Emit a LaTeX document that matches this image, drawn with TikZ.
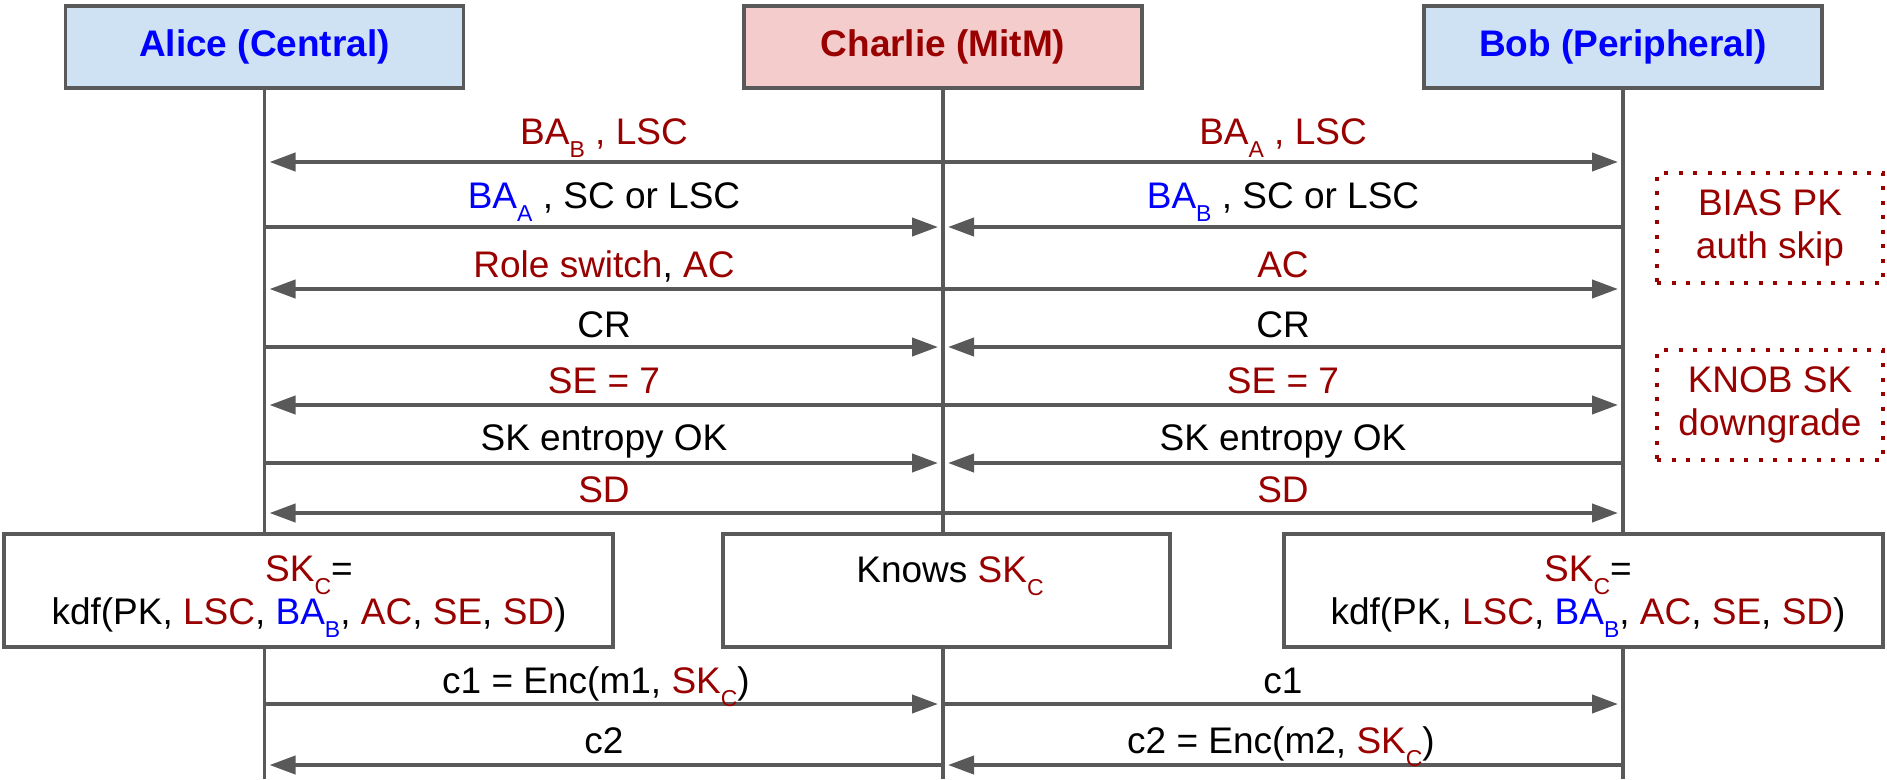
\documentclass[tikz,border=0pt]{standalone}
\usepackage{fontspec}
\setmainfont{Liberation Sans}
\usetikzlibrary{arrows.meta,calc}
\definecolor{dred}{HTML}{990000}
\definecolor{bblue}{HTML}{0000FF}
\definecolor{lgray}{HTML}{595959}
\definecolor{fblue}{HTML}{CFE2F3}
\definecolor{fred}{HTML}{F4CCCC}
\newcommand\subs[1]{\raisebox{-13pt}{\fontsize{23}{23}\selectfont #1}}
\newcommand\rd[1]{\textcolor{dred}{#1}}
\newcommand\bl[1]{\textcolor{bblue}{#1}}
\begin{document}
\begin{tikzpicture}[x=1pt,y=-1pt,
  actor/.style={draw=lgray, line width=3.5pt, minimum width=398pt, minimum height=82pt, inner sep=0pt, font=\bfseries\fontsize{37}{40}\selectfont},
  kbox/.style={draw=lgray, line width=3.5pt, fill=white, inner sep=0pt, minimum height=113pt},
  life/.style={draw=lgray, line width=3.5pt},
  msg/.style={draw=lgray, line width=4pt, -{Triangle[length=26pt,width=18pt]}, shorten >=5pt, shorten <=1pt},
  lbl/.style={anchor=base, inner sep=0pt, font=\fontsize{37}{40}\selectfont},
  ktext/.style={anchor=north, inner sep=0pt, align=center, font=\fontsize{37}{43}\selectfont},
  note/.style={draw=dred, line width=3.5pt, dash pattern=on 4pt off 10.5pt, minimum width=226pt, minimum height=110pt, text=dred, align=center, inner sep=0pt, font=\fontsize{37}{43}\selectfont}
]
\useasboundingbox (0,0) rectangle (1887,779);
\coordinate (bot) at (0,779);
% actors
\node[actor, fill=fblue, text=bblue] (alice) at (264.5,47) {Alice (Central)};
\node[actor, fill=fred, text=dred] (charlie) at (943,47) {Charlie (MitM)};
\node[actor, fill=fblue, text=bblue] (bob) at (1623,47) {Bob (Peripheral)};
% key boxes
\node[kbox, minimum width=609pt] (kA) at (308.5,590.5) {};
\node[kbox, minimum width=447pt] (kC) at (946.5,590.5) {};
\node[kbox, minimum width=599pt] (kB) at (1583.5,590.5) {};
% lifelines
\foreach \n in {alice,charlie,bob}{
  \draw[life] (\n.south) -- (\n.south |- kA.north);
  \draw[life] (\n.south |- kA.south) -- (\n.south |- bot);
}
% rows
\coordinate (r1) at (0,162);
\coordinate (r2) at (0,227);
\coordinate (r3) at (0,289);
\coordinate (r4) at (0,347);
\coordinate (r5) at (0,405);
\coordinate (r6) at (0,463);
\coordinate (r7) at (0,513);
\coordinate (r8) at (0,704);
\coordinate (r9) at (0,765);
% messages
\draw[msg] (charlie.south |- r1) -- (alice.south |- r1);
\draw[msg] (charlie.south |- r1) -- (bob.south |- r1);
\draw[msg] (alice.south |- r2) -- (charlie.south |- r2);
\draw[msg] (bob.south |- r2) -- (charlie.south |- r2);
\draw[msg] (charlie.south |- r3) -- (alice.south |- r3);
\draw[msg] (charlie.south |- r3) -- (bob.south |- r3);
\draw[msg] (alice.south |- r4) -- (charlie.south |- r4);
\draw[msg] (bob.south |- r4) -- (charlie.south |- r4);
\draw[msg] (charlie.south |- r5) -- (alice.south |- r5);
\draw[msg] (charlie.south |- r5) -- (bob.south |- r5);
\draw[msg] (alice.south |- r6) -- (charlie.south |- r6);
\draw[msg] (bob.south |- r6) -- (charlie.south |- r6);
\draw[msg] (charlie.south |- r7) -- (alice.south |- r7);
\draw[msg] (charlie.south |- r7) -- (bob.south |- r7);
\draw[msg] (alice.south |- r8) -- (charlie.south |- r8);
\draw[msg] (charlie.south |- r8) -- (bob.south |- r8);
\draw[msg] (charlie.south |- r9) -- (alice.south |- r9);
\draw[msg] (bob.south |- r9) -- (charlie.south |- r9);
% labels
\node[lbl, text=dred] (l1a) at (604,144) {BA\subs{B} , LSC};
\node[lbl, text=dred] (l1b) at (1283,144) {BA\subs{A} , LSC};
\node[lbl] (l2a) at (604,208) {\bl{BA\subs{A}} , SC or LSC};
\node[lbl] (l2b) at (1283,208) {\bl{BA\subs{B}} , SC or LSC};
\node[lbl] (l3a) at (604,277) {\rd{Role switch}, \rd{AC}};
\node[lbl, text=dred] (l3b) at (1283,277) {AC};
\node[lbl] (l4a) at (604,337) {CR};
\node[lbl] (l4b) at (1283,337) {CR};
\node[lbl, text=dred] (l5a) at (604,393) {SE = 7};
\node[lbl, text=dred] (l5b) at (1283,393) {SE = 7};
\node[lbl] (l6a) at (604,450) {SK entropy OK};
\node[lbl] (l6b) at (1283,450) {SK entropy OK};
\node[lbl, text=dred] (l7a) at (604,502) {SD};
\node[lbl, text=dred] (l7b) at (1283,502) {SD};
\node[lbl] (l8a) at (596,693) {c1 = Enc(m1, \rd{SK\subs{C}})};
\node[lbl] (l8b) at (1283,693) {c1};
\node[lbl] (l9a) at (604,753) {c2};
\node[lbl] (l9b) at (1281,753) {c2 = Enc(m2, \rd{SK\subs{C}})};
% key texts
\node[ktext] (tA) at (309,555) {\rd{SK\subs{C}}=\\kdf(PK, \rd{LSC}, \bl{BA\subs{B}}, \rd{AC}, \rd{SE}, \rd{SD})};
\node[lbl] (tC) at (950,582) {Knows \rd{SK\subs{C}}};
\node[ktext] (tB) at (1588,555) {\rd{SK\subs{C}}=\\kdf(PK, \rd{LSC}, \bl{BA\subs{B}}, \rd{AC}, \rd{SE}, \rd{SD})};
% notes
\node[note] (bias) at (1770,228) {BIAS PK\\auth skip};
\node[note] (knob) at (1770,405) {KNOB SK\\downgrade};
\end{tikzpicture}
\end{document}
